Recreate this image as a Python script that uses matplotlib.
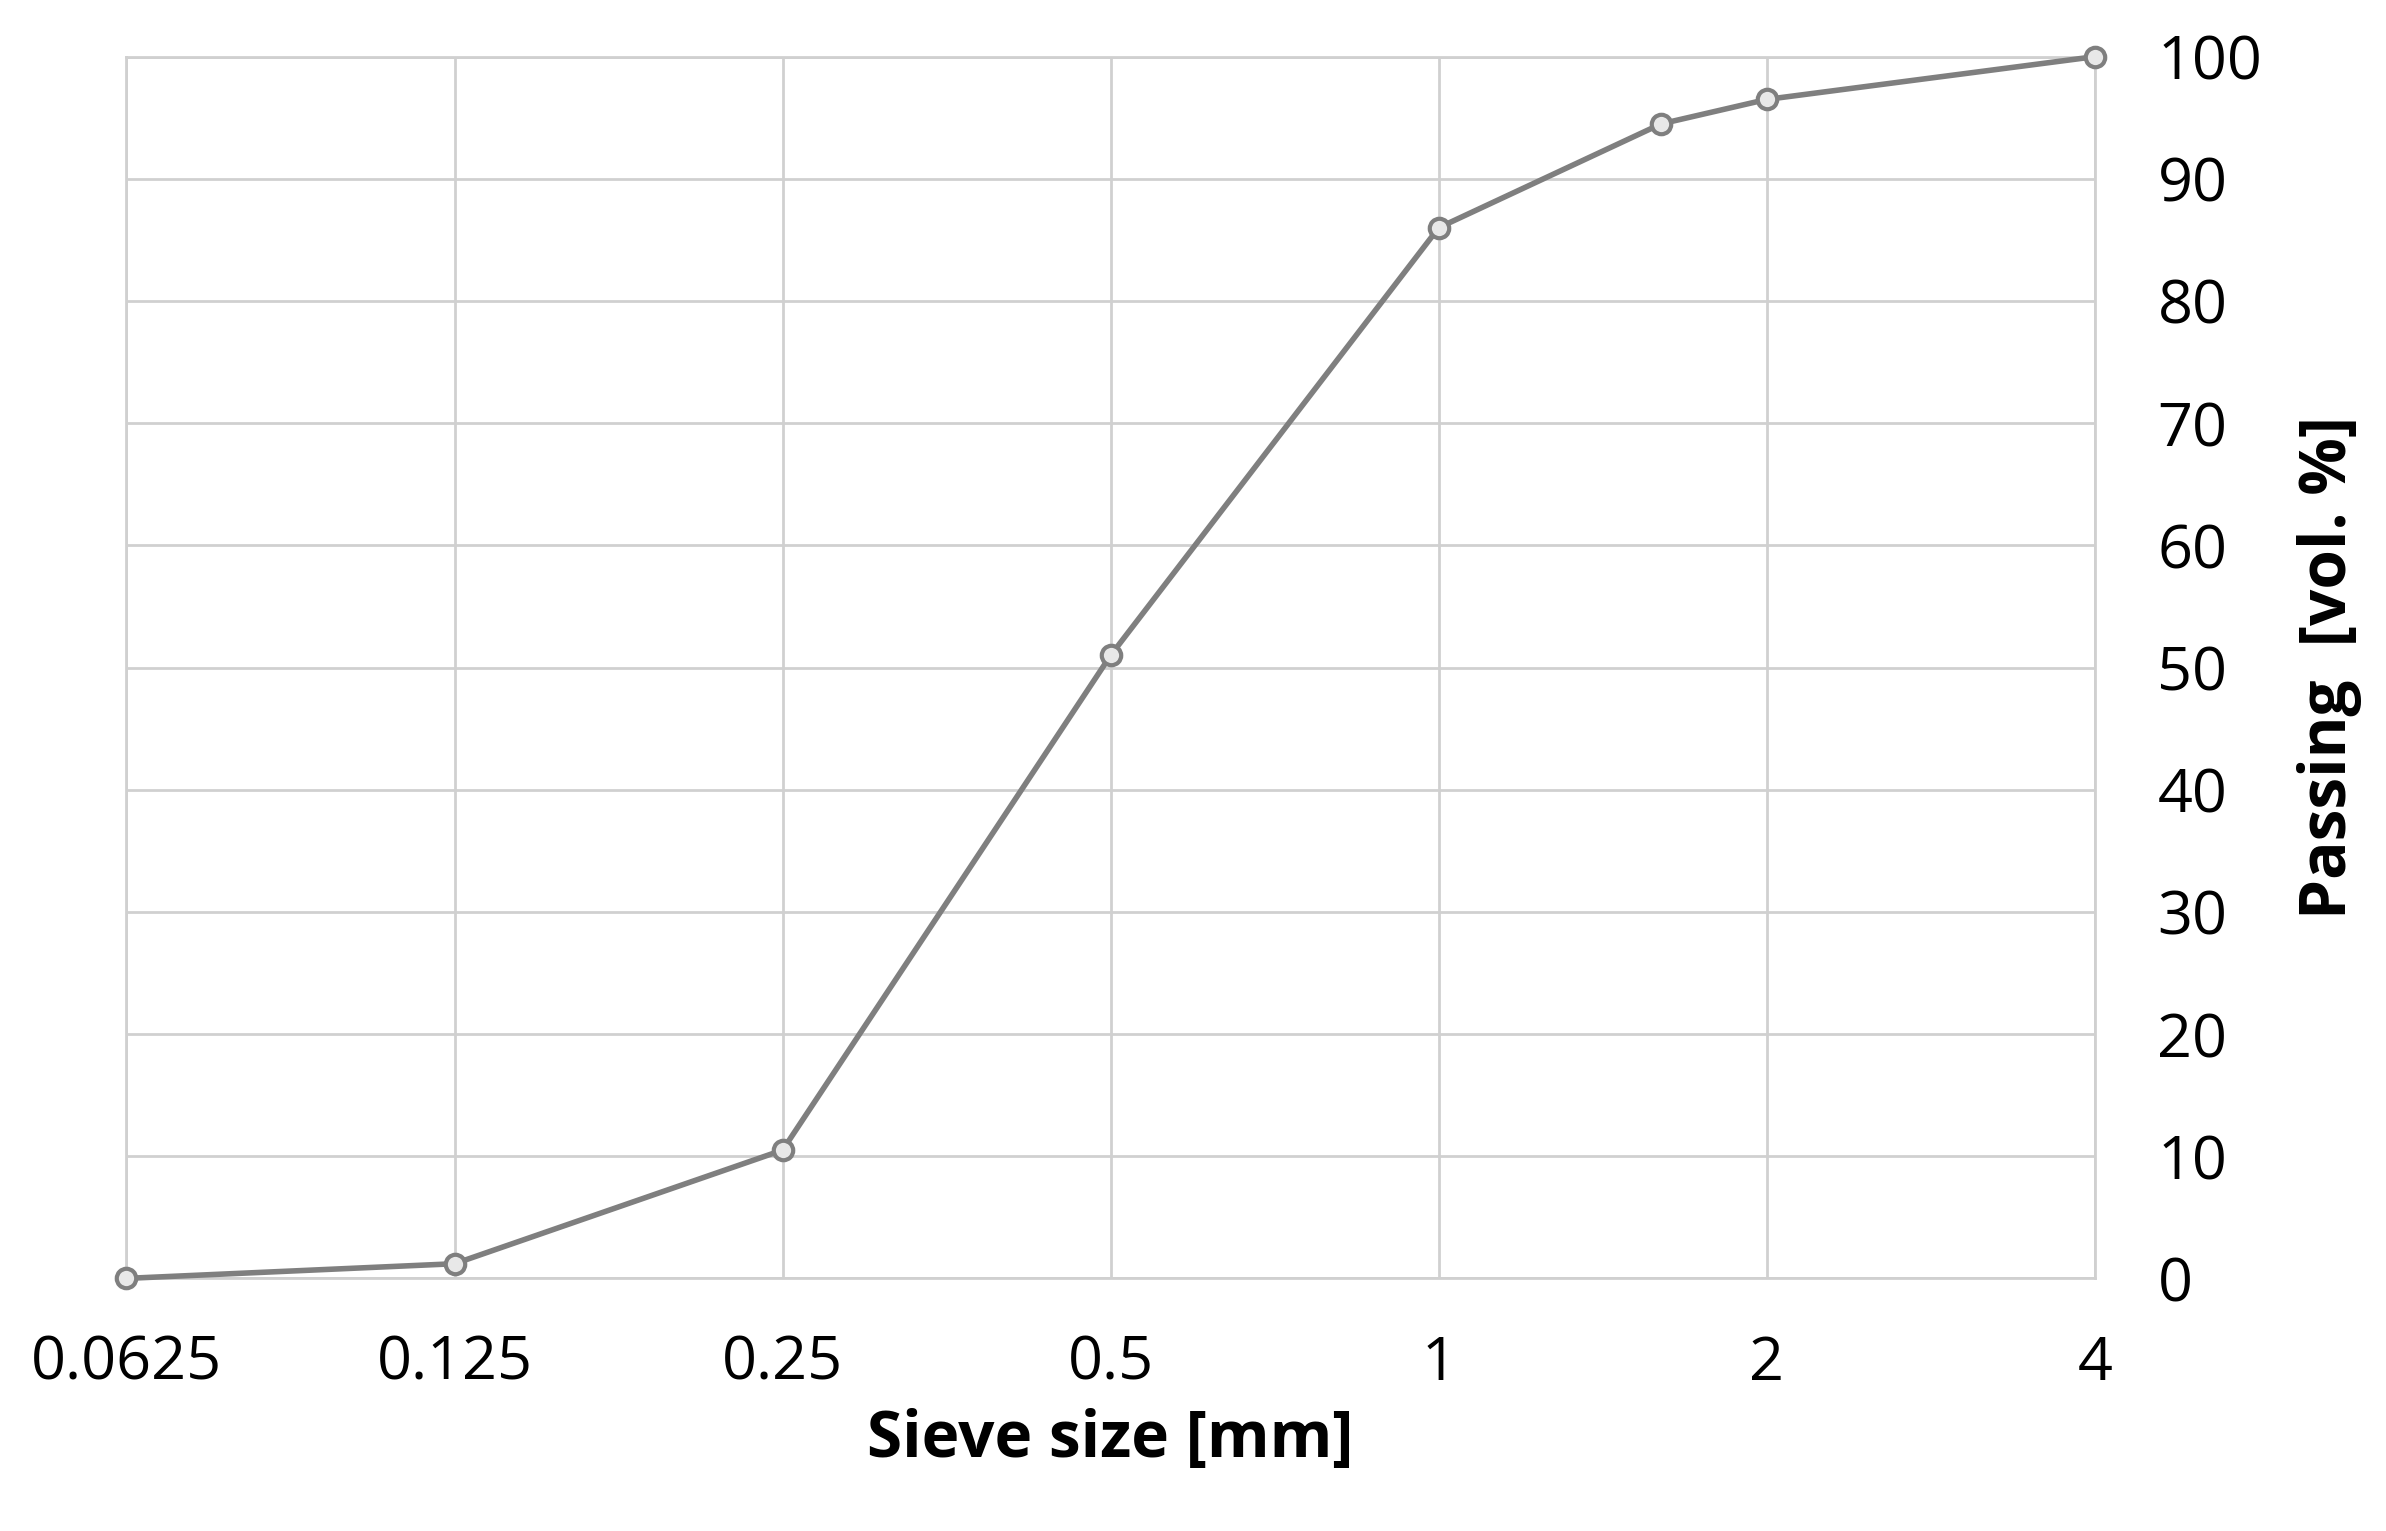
import matplotlib.pyplot as plt
import numpy as np

sieve = [0.0625, 0.125, 0.25, 0.5, 1, 1.6, 2, 4]
passing = [0, 1.2, 10.5, 51, 86, 94.5, 96.5, 100]
xticks = [0.0625, 0.125, 0.25, 0.5, 1, 2, 4]
xlabels = ['0.0625', '0.125', '0.25', '0.5', '1', '2', '4']

plt.rcParams['font.family'] = ['Open Sans', 'DejaVu Sans']
fig = plt.figure(figsize=(23.86, 15.31), dpi=100)
ax = fig.add_axes([0.053, 0.165, 0.825, 0.798])
ax.set_xscale('log', base=2)
ax.plot(sieve, passing, color='#7f7f7f', lw=4, marker='o', ms=14,
        mfc='#e8e8e8', mec='#7f7f7f', mew=3, zorder=3, clip_on=False)
ax.set_xlim(0.0625, 4)
ax.set_ylim(0, 100)
ax.set_xticks(xticks)
ax.set_xticklabels(xlabels)
ax.minorticks_off()
ax.set_yticks(range(0, 101, 10))
ax.yaxis.tick_right()
ax.yaxis.set_label_position('right')
ax.grid(True, color='#d0d0d0', lw=2)
for s in ax.spines.values():
    s.set_color('#d0d0d0')
    s.set_linewidth(2)
ax.tick_params(axis='x', length=0, labelsize=44, pad=40)
ax.tick_params(axis='y', length=0, labelsize=44, pad=45)
ax.set_xlabel('Sieve size [mm]', fontsize=46, fontweight='bold', labelpad=10)
ax.set_ylabel('Passing  [vol. %]', fontsize=46, fontweight='bold', labelpad=25)
fig.savefig('out.png')
